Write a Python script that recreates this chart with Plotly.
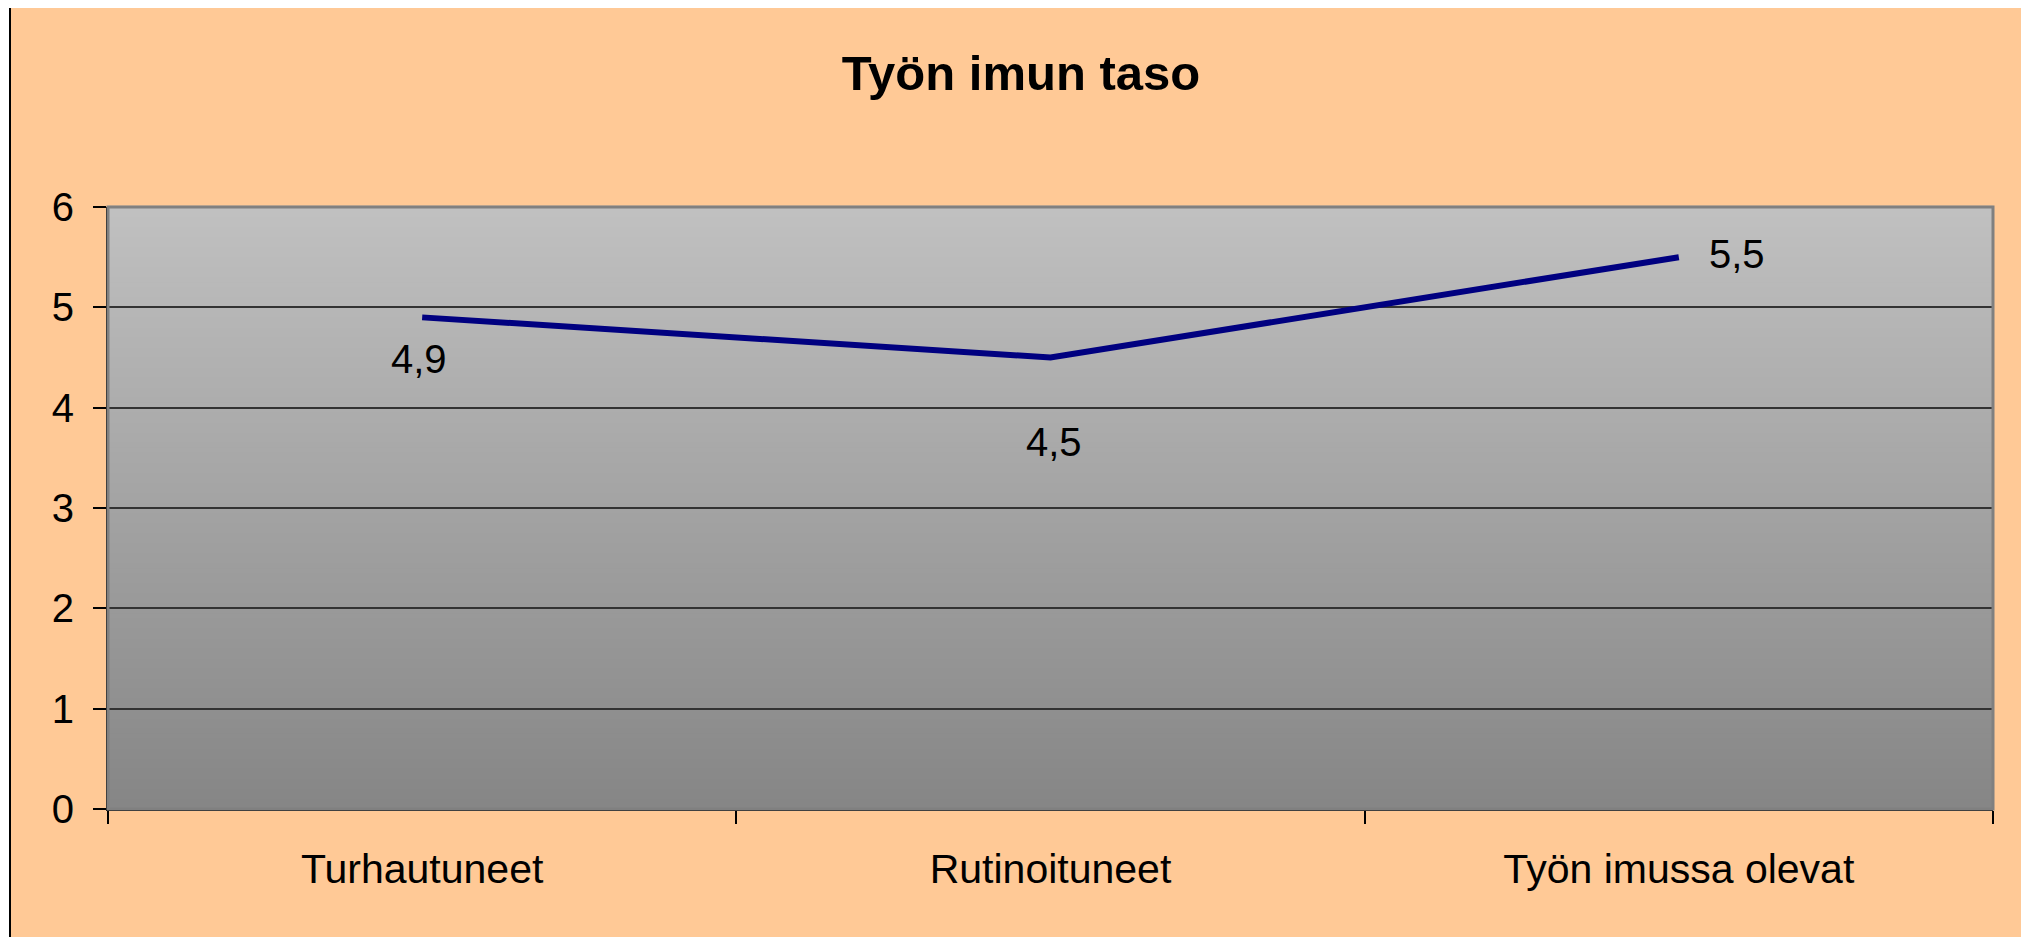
import plotly.graph_objects as go

# data
categories = ["Turhautuneet", "Rutinoituneet", "Työn imussa olevat"]
values = [4.9, 4.5, 5.5]
value_labels = ["4,9", "4,5", "5,5"]
y_ticks = [0, 1, 2, 3, 4, 5, 6]

# visual constants (screen pixels of the reference; the page adds an 8px body margin)
OFF = 8
W, H = 2029 - OFF, 937 - OFF
PLOT_L, PLOT_R, PLOT_T, PLOT_B = 108 - OFF, 1993 - OFF, 207 - OFF, 809 - OFF
PEACH = "#ffc996"
LINE_COLOR = "#000080"
GRID_COLOR = "#333333"
FONT = "Liberation Sans, Arial, sans-serif"

pw = PLOT_R - PLOT_L
ph = PLOT_B - PLOT_T


def px_to_paper_x(px):
    return (px - OFF - PLOT_L) / pw


def px_to_paper_y(py):
    return (PLOT_B - (py - OFF)) / ph


fig = go.Figure()

fig.add_trace(go.Scatter(
    x=categories, y=values, mode="lines",
    line=dict(color=LINE_COLOR, width=6),
    showlegend=False, hoverinfo="x+y",
))

shapes = []
# peach chart area with black frame
shapes.append(dict(
    type="rect", xref="paper", yref="paper", layer="below",
    x0=px_to_paper_x(10), x1=px_to_paper_x(2022),
    y0=px_to_paper_y(950), y1=px_to_paper_y(5),
    fillcolor=PEACH, line=dict(color="#000000", width=2),
))

# vertical grey gradient in the plot area (bands)
n_bands = 120
top_rgb = (0xC0, 0xC0, 0xC0)
bot_rgb = (0x86, 0x86, 0x86)
for i in range(n_bands):
    t = i / (n_bands - 1)
    c = tuple(round(b + (a - b) * t) for a, b in zip(top_rgb, bot_rgb))
    shapes.append(dict(
        type="rect", xref="paper", yref="paper", layer="below",
        x0=0, x1=1, y0=i / n_bands, y1=(i + 1) / n_bands + 0.002,
        fillcolor=f"rgb{c}", line=dict(width=0),
    ))

# grey plot-area border
shapes.append(dict(
    type="rect", xref="paper", yref="paper", layer="above",
    x0=0, x1=1, y0=0, y1=1,
    line=dict(color="#808080", width=3), fillcolor="rgba(0,0,0,0)",
))

# data labels placed relative to points
label_shifts = [(-3, -42), (3, -84), (58, 3)]
annotations = []
for cat, v, txt, (dx, dy) in zip(categories, values, value_labels, label_shifts):
    annotations.append(dict(
        x=cat, y=v, xref="x", yref="y", text=txt, showarrow=False,
        xshift=dx, yshift=dy,
        font=dict(family=FONT, size=40, color="#000000"),
    ))

fig.update_layout(
    width=W, height=H,
    paper_bgcolor="#ffffff", plot_bgcolor="rgba(0,0,0,0)",
    margin=dict(l=PLOT_L, r=W - PLOT_R, t=PLOT_T, b=H - PLOT_B, pad=0),
    font=dict(family=FONT, color="#000000"),
    title=dict(
        text="<b>Työn imun taso</b>", xref="container", yref="container",
        x=(1021 - OFF) / W, y=1 - (73 - OFF) / H, xanchor="center", yanchor="middle",
        font=dict(family=FONT, size=49, color="#000000"),
    ),
    shapes=shapes,
    annotations=annotations,
    xaxis=dict(
        type="category", range=[-0.5, 2.5],
        tickson="boundaries", ticks="outside", ticklen=13, tickwidth=1.5,
        tickcolor="#000000", showgrid=False, zeroline=False,
        showline=True, linecolor="#000000", linewidth=2,
        tickfont=dict(family=FONT, size=41, color="#000000"),
        ticklabelstandoff=23,
    ),
    yaxis=dict(
        range=[0, 6], tickvals=y_ticks, ticktext=[str(v) for v in y_ticks],
        ticks="outside", ticklen=13, tickwidth=1.5, tickcolor="#000000",
        showgrid=True, gridcolor=GRID_COLOR, gridwidth=1.5,
        zeroline=False, showline=True, linecolor="#000000", linewidth=2,
        tickfont=dict(family=FONT, size=40, color="#000000"),
        ticklabelstandoff=11,
    ),
)

fig.write_html("out.html")
